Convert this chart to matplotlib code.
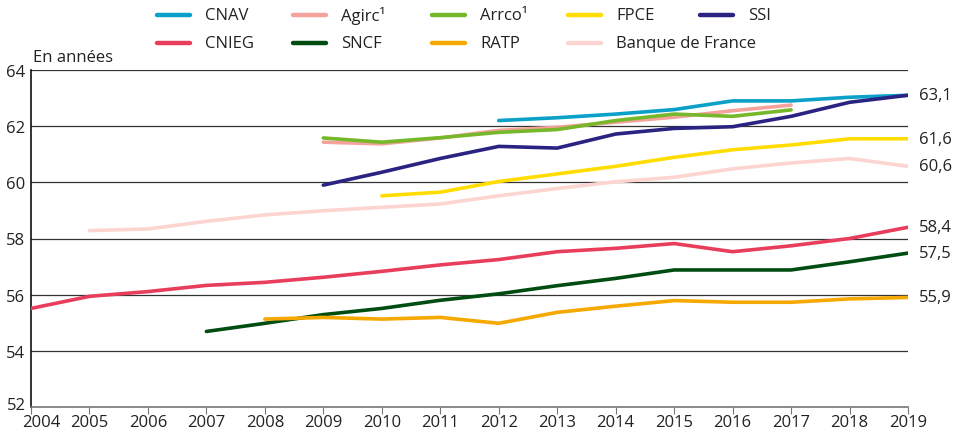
import matplotlib.pyplot as plt
from matplotlib.lines import Line2D
from matplotlib.transforms import ScaledTranslation

plt.rcParams['font.family'] = ['Open Sans', 'DejaVu Sans']

years = list(range(2004, 2020))

cnav_years = list(range(2012, 2020))
cnav = [62.2, 62.3, 62.43, 62.59, 62.9, 62.9, 63.03, 63.1]

agirc_years = list(range(2009, 2018))
agirc = [61.43, 61.37, 61.58, 61.85, 61.96, 62.14, 62.32, 62.55, 62.75]

arrco_years = list(range(2009, 2018))
arrco = [61.58, 61.43, 61.59, 61.78, 61.88, 62.2, 62.43, 62.35, 62.58]

fpce_years = list(range(2010, 2020))
fpce = [59.52, 59.65, 60.03, 60.3, 60.57, 60.89, 61.16, 61.33, 61.55, 61.55]

ssi_years = list(range(2009, 2020))
ssi = [59.9, 60.36, 60.85, 61.28, 61.22, 61.72, 61.92, 61.98, 62.35, 62.85, 63.1]

cnieg_years = list(range(2004, 2020))
cnieg = [55.51, 55.94, 56.11, 56.33, 56.44, 56.62, 56.83, 57.06, 57.25, 57.53,
         57.65, 57.82, 57.53, 57.74, 58.0, 58.4]

sncf_years = list(range(2007, 2020))
sncf = [54.69, 54.98, 55.29, 55.51, 55.8, 56.03, 56.32, 56.58, 56.88, 56.88,
        56.88, 57.17, 57.48]

ratp_years = list(range(2008, 2020))
ratp = [55.13, 55.19, 55.13, 55.19, 54.98, 55.37, 55.59, 55.79, 55.73, 55.73,
        55.85, 55.9]

bdf_years = list(range(2005, 2020))
bdf = [58.28, 58.34, 58.61, 58.84, 58.99, 59.11, 59.23, 59.52, 59.78, 60.02,
       60.18, 60.48, 60.69, 60.85, 60.57]

series = [
    ("Banque de France", bdf_years, bdf, "#fcd5d1"),
    ("CNIEG", cnieg_years, cnieg, "#e83e5c"),
    ("SNCF", sncf_years, sncf, "#004d12"),
    ("RATP", ratp_years, ratp, "#f5a800"),
    ("FPCE", fpce_years, fpce, "#ffdd00"),
    ("CNAV", cnav_years, cnav, "#0aa0c8"),
    ("Agirc\u00b9", agirc_years, agirc, "#f4a29c"),
    ("Arrco\u00b9", arrco_years, arrco, "#76b82a"),
    ("SSI", ssi_years, ssi, "#2b2382"),
]

end_labels = ["63,1", "61,6", "60,6", "58,4", "57,5", "55,9"]
end_values = [63.1, 61.55, 60.57, 58.4, 57.48, 55.9]

fig = plt.figure(figsize=(9.61, 4.35), dpi=100)
ax = fig.add_axes([31 / 961, 1 - 408 / 435, 877 / 961, 337 / 435])

for val in range(54, 65, 2):
    ax.axhline(val, color="#333333", linewidth=0.9, zorder=1)

colors = {}
for name, xs, ys, col in series:
    ax.plot(xs, ys, color=col, linewidth=2.6, solid_capstyle="round", zorder=3)
    colors[name] = col

for lab, v in zip(end_labels, end_values):
    ax.annotate(lab, xy=(2019, v), xytext=(8, 0), textcoords="offset points",
                va="center", ha="left", fontsize=12, color="#222222",
                annotation_clip=False)

ax.set_xlim(2004, 2019)
ax.set_ylim(52, 64)
ax.set_xticks(years)
ax.set_yticks(range(52, 65, 2))
ax.tick_params(axis="x", direction="out", length=5, color="#777777",
               labelsize=12, labelcolor="#222222", pad=0)
ax.tick_params(axis="y", length=0, labelsize=12, labelcolor="#222222", pad=4)

# nudge the corner labels apart, as in the original
first_x = ax.get_xticklabels()[0]
first_x.set_transform(first_x.get_transform() + ScaledTranslation(0.1, 0, fig.dpi_scale_trans))
first_y = ax.get_yticklabels()[0]
first_y.set_transform(first_y.get_transform() + ScaledTranslation(0, 0.04, fig.dpi_scale_trans))

for s in ["top", "right"]:
    ax.spines[s].set_visible(False)
ax.spines["left"].set_color("#111111")
ax.spines["left"].set_linewidth(1.2)
ax.spines["bottom"].set_color("#777777")
ax.spines["bottom"].set_linewidth(1.2)

fig.text(33 / 961, 1 - 58 / 435, "En années", fontsize=12, color="#222222",
         va="center", ha="left")

# legend laid out as a fixed grid
legend_rows = [
    ["CNAV", "Agirc\u00b9", "Arrco\u00b9", "FPCE", "SSI"],
    ["CNIEG", "SNCF", "RATP", "Banque de France"],
]
col_x = [157, 293, 432, 568, 700]
row_y = [16, 44]
for r, row in enumerate(legend_rows):
    for c, name in enumerate(row):
        x0 = col_x[c]
        y0 = 1 - row_y[r] / 435
        fig.add_artist(Line2D([x0 / 961, (x0 + 33) / 961], [y0, y0],
                              color=colors[name], linewidth=3.2,
                              solid_capstyle="round"))
        fig.text((x0 + 48) / 961, y0, name, fontsize=12, color="#222222",
                 va="center", ha="left")

fig.savefig("out.png", dpi=100)
